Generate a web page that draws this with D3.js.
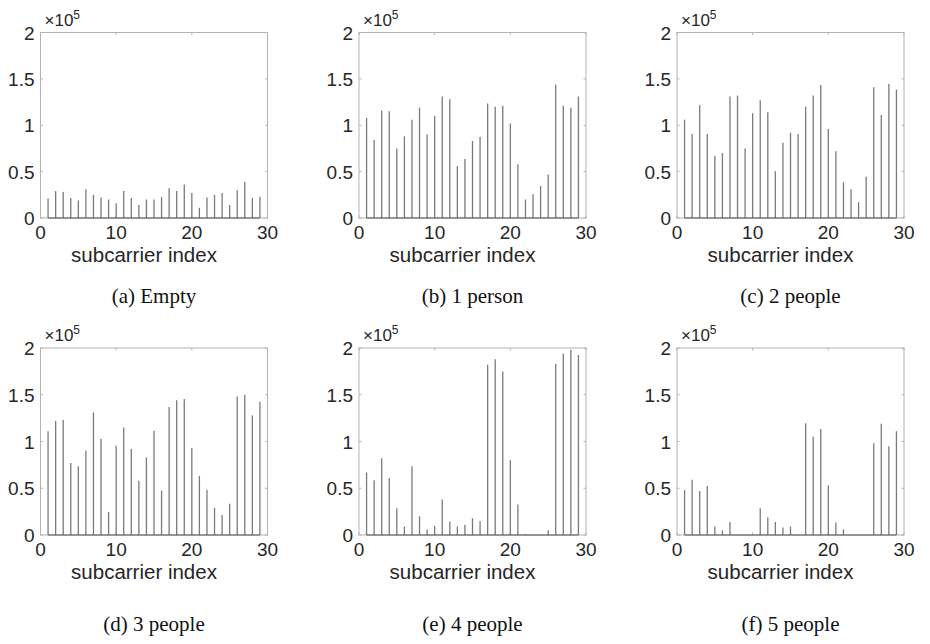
<!DOCTYPE html>
<html><head><meta charset="utf-8">
<script src="https://cdn.jsdelivr.net/npm/d3@7/dist/d3.min.js"></script>
<style>body{margin:0;background:#fff}</style>
</head><body><svg id="chart" width="930" height="644"></svg>
<script>
const subcarriers = [1,2,3,4,5,6,7,8,9,10,11,12,13,14,15,16,17,18,19,20,21,22,23,24,25,26,27,28,29];
const xTicks = [0,10,20,30];
const yTicks = [0,50000,100000,150000,200000];
const yTickLabels = ["0","0.5","1","1.5","2"];
const captions = ["(a) Empty","(b) 1 person","(c) 2 people","(d) 3 people","(e) 4 people","(f) 5 people"];
const emptyValues   = [21000,29000,28000,21500,19000,31000,25000,22000,20000,16000,29000,21500,14000,20000,20000,22500,32000,29000,36000,27000,11000,22000,25000,27000,14000,30000,39000,21500,23000];
const person1Values = [108000,84000,116000,115000,75000,88000,106000,119000,90000,110000,131000,128000,56000,63500,83000,87600,123500,120000,121000,102000,58000,20000,25500,34500,47000,144000,121000,119000,131000];
const people2Values = [106000,90500,121500,90500,67000,70000,131000,132000,75000,113000,127000,114000,50500,81000,92000,90500,120000,132000,143500,96000,72000,38500,31000,17000,44500,141000,111000,144500,138500];
const people3Values = [111000,122000,123000,77000,73500,90000,131000,103000,24500,95500,115000,92000,58000,83000,111500,47500,137000,144000,145500,93000,63000,48500,29000,21500,33500,148000,150000,128000,142500];
const people4Values = [67000,58500,82000,61000,28500,9000,73500,20000,6000,10000,38000,14500,9000,11000,18000,15000,182000,188000,175000,80000,32500,1000,200,200,5000,183000,194000,198000,192500];
const people5Values = [48000,59000,47000,52500,9000,5000,14000,200,100,200,28500,19000,14000,8000,9000,200,119500,105000,113500,53000,13500,6000,100,0,0,98000,119000,95000,111000];
const seriesList = [emptyValues, person1Values, people2Values, people3Values, people4Values, people5Values];

const colX = [40.5, 359, 677];
const panelW = 227;
const rowTop = [32.5, 348];
const rowH = [185.5, 187];
const captionOffset = [85, 96];

const svg = d3.select("#chart");
const axisColor = "#b3b3b3";
const textColor = "#262626";
const barColor = "#7a7a7a";
const sans = "Liberation Sans, Arial, Helvetica, sans-serif";

seriesList.forEach((vals, i) => {
  const c = i % 3, r = Math.floor(i / 3);
  const left = colX[c], top = rowTop[r], w = panelW, h = rowH[r];
  const g = svg.append("g").attr("transform", `translate(${left},${top})`);
  const x = d3.scaleLinear().domain([0, 30]).range([0, w]);
  const y = d3.scaleLinear().domain([0, 200000]).range([h, 0]);

  g.append("rect").attr("x", 0).attr("y", 0).attr("width", w).attr("height", h)
    .attr("fill", "none").attr("stroke", axisColor).attr("stroke-width", 1);

  const tl = 2.5;
  xTicks.forEach(t => {
    g.append("line").attr("x1", x(t)).attr("x2", x(t)).attr("y1", h).attr("y2", h - tl).attr("stroke", axisColor);
    g.append("line").attr("x1", x(t)).attr("x2", x(t)).attr("y1", 0).attr("y2", tl).attr("stroke", axisColor);
  });
  yTicks.forEach(t => {
    g.append("line").attr("x1", 0).attr("x2", tl).attr("y1", y(t)).attr("y2", y(t)).attr("stroke", axisColor);
    g.append("line").attr("x1", w).attr("x2", w - tl).attr("y1", y(t)).attr("y2", y(t)).attr("stroke", axisColor);
  });

  g.selectAll("line.bar").data(vals).enter().append("line")
    .attr("class", "bar")
    .attr("x1", (d, k) => x(subcarriers[k])).attr("x2", (d, k) => x(subcarriers[k]))
    .attr("y1", y(0)).attr("y2", d => y(d))
    .attr("stroke", barColor).attr("stroke-width", 1.3);

  g.append("line").attr("x1", x(subcarriers[0])).attr("x2", x(subcarriers[subcarriers.length - 1]))
    .attr("y1", y(0)).attr("y2", y(0)).attr("stroke", "#555").attr("stroke-width", 1);

  xTicks.forEach(t => {
    g.append("text").attr("x", x(t)).attr("y", h + 21).attr("text-anchor", "middle")
      .attr("font-family", sans).attr("font-size", 19)
      .attr("fill", textColor).text(t);
  });
  yTicks.forEach((t, k) => {
    g.append("text").attr("x", -6).attr("y", y(t) + 7).attr("text-anchor", "end")
      .attr("font-family", sans).attr("font-size", 19)
      .attr("fill", textColor).text(yTickLabels[k]);
  });
  const ex = g.append("text").attr("x", 4).attr("y", -7)
    .attr("font-family", sans).attr("font-size", 17).attr("fill", textColor);
  ex.append("tspan").text("\u00d710");
  ex.append("tspan").attr("dy", -7).attr("font-size", 12).text("5");

  g.append("text").attr("x", w / 2 - 10).attr("y", h + 44).attr("text-anchor", "middle")
    .attr("font-family", sans).attr("font-size", 20.5)
    .attr("fill", textColor).text("subcarrier index");

  g.append("text").attr("x", w / 2).attr("y", h + captionOffset[r]).attr("text-anchor", "middle")
    .attr("font-family", "Liberation Serif, Times New Roman, serif").attr("font-size", 21)
    .attr("fill", "#111").text(captions[i]);
});
</script></body></html>
